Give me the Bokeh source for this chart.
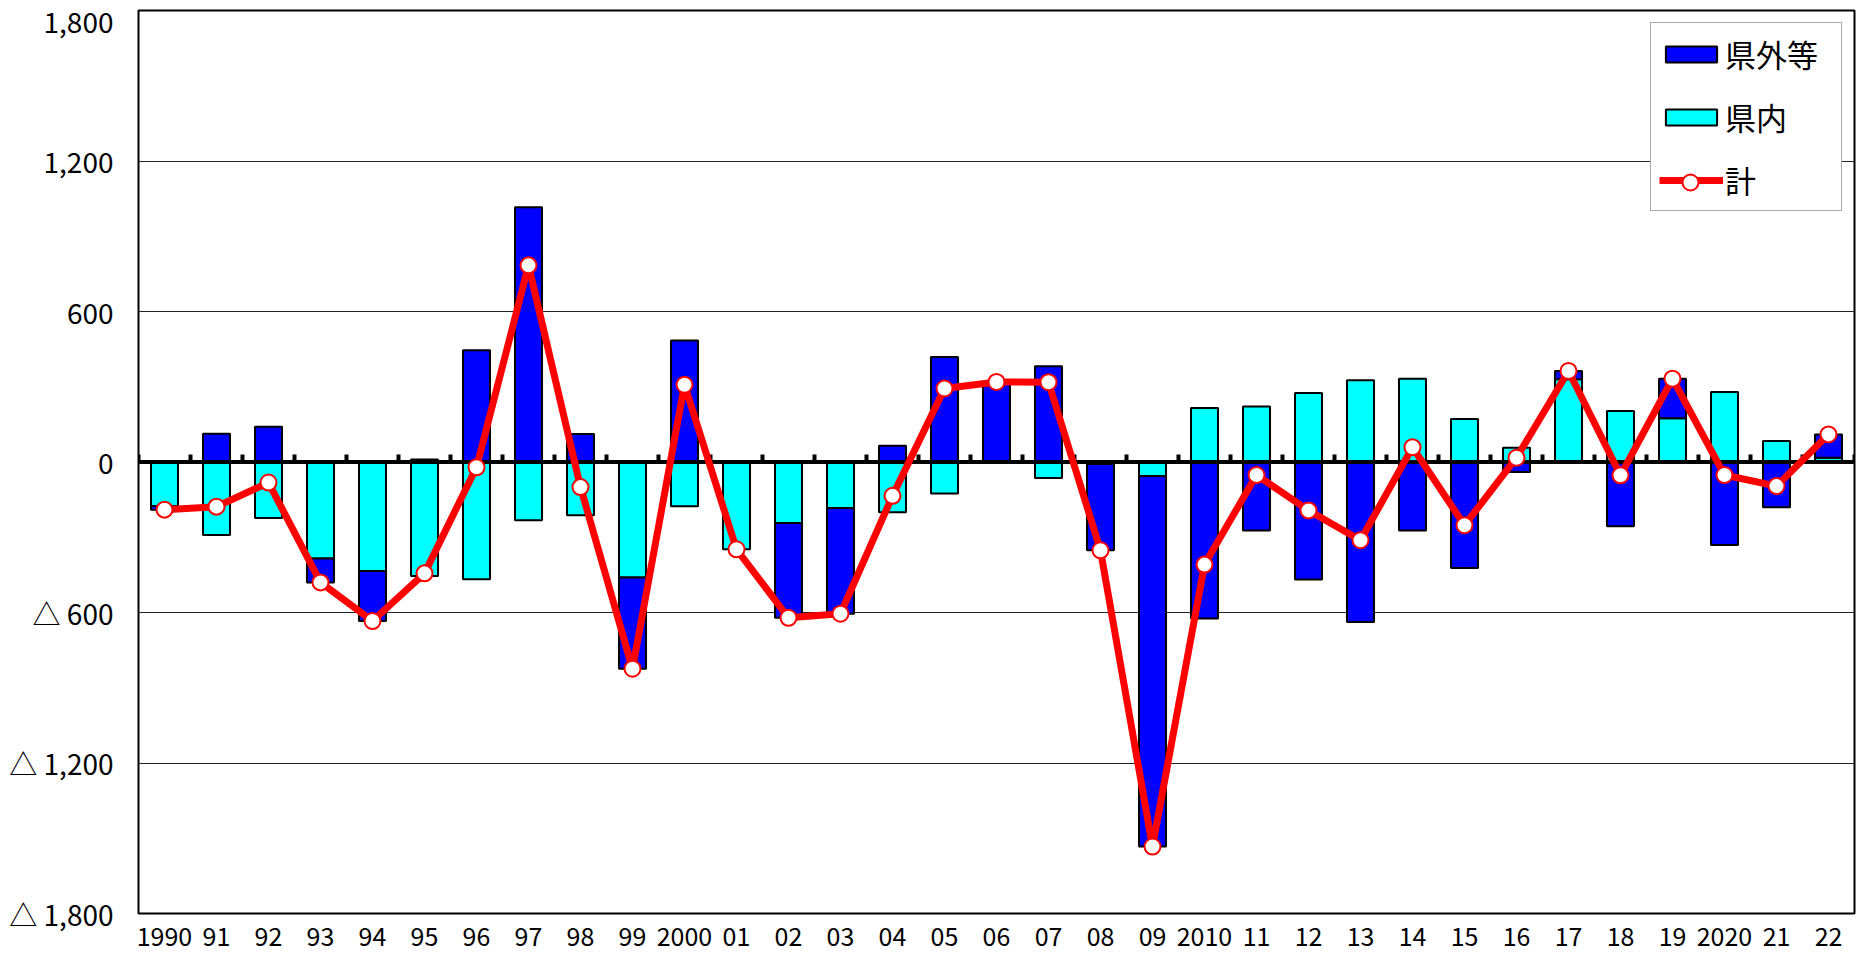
import numpy as np
from bokeh.plotting import figure
from bokeh.models import Range1d, FixedTicker, Legend, LegendItem
from bokeh.embed import file_html
from bokeh.resources import INLINE

# ---- data ----
years = ["1990", "91", "92", "93", "94", "95", "96", "97", "98", "99",
         "2000", "01", "02", "03", "04", "05", "06", "07", "08", "09",
         "2010", "11", "12", "13", "14", "15", "16", "17", "18", "19",
         "2020", "21", "22"]

# 県内 (within prefecture)
kennai = [-175, -291, -223, -385, -435, -454, -467, -232, -212, -460,
          -176, -348, -243, -183, -200, -126, 0, -64, -8, -56,
          215, 221, 275, 326, 332, 171, 57, 330, 203, 174,
          279, 84, 17]

# 県外等 (outside prefecture etc.)
kengai = [-15, 113, 141, -95, -199, 10, 446, 1016, 112, -364,
          484, 0, -378, -422, 65, 419, 319, 382, -344, -1477,
          -624, -273, -468, -638, -273, -423, -40, 33, -256, 158,
          -331, -180, 93]

# 計 (total)
total = [-190, -178, -82, -480, -634, -444, -21, 784, -100, -824,
         308, -348, -621, -605, -135, 293, 319, 318, -352, -1533,
         -409, -52, -193, -312, 59, -252, 17, 363, -53, 332,
         -52, -96, 110]

y_ticks = [-1800, -1200, -600, 0, 600, 1200, 1800]
y_tick_labels = ["△ 1,800", "△ 1,200", "△ 600", "0", "600", "1,200", "1,800"]

FONT = "Noto Sans CJK JP"

n = len(years)
x = np.arange(n)
kn = np.array(kennai, dtype=float)
kg = np.array(kengai, dtype=float)
# Excel-style stacking: positives stack upward, negatives downward
base = np.where(kg >= 0, np.maximum(kn, 0), np.minimum(kn, 0))
kg_bottom = base
kg_top = base + kg

p = figure(width=1864, height=957, output_backend="svg", toolbar_location=None,
           x_range=Range1d(-0.5, n - 0.5), y_range=Range1d(-1800, 1800),
           min_border_left=138, min_border_right=10, min_border_top=10,
           min_border_bottom=44)

p.background_fill_color = "white"
p.border_fill_color = "white"
p.outline_line_color = "black"
p.outline_line_width = 2

# y axis
p.yaxis.ticker = FixedTicker(ticks=y_ticks)
p.yaxis.major_label_overrides = {t: l for t, l in zip(y_ticks, y_tick_labels)}
p.yaxis.axis_line_color = None
p.yaxis.major_tick_line_color = None
p.yaxis.minor_tick_line_color = None
p.yaxis.major_label_standoff = 19
p.yaxis.major_label_text_font = FONT
p.yaxis.major_label_text_font_size = "28px"
p.yaxis.major_label_text_color = "black"

# x axis
p.xaxis.ticker = FixedTicker(ticks=list(range(n)))
p.xaxis.major_label_overrides = {i: years[i] for i in range(n)}
p.xaxis.axis_line_color = None
p.xaxis.major_tick_line_color = None
p.xaxis.minor_tick_line_color = None
p.xaxis.major_label_standoff = 7
p.xaxis.major_label_text_font = FONT
p.xaxis.major_label_text_font_size = "25px"
p.xaxis.major_label_text_color = "black"

# grid
p.xgrid.visible = False
p.ygrid.ticker = FixedTicker(ticks=y_ticks)
p.ygrid.grid_line_color = "#222222"
p.ygrid.grid_line_width = 1

# bars
r_kn = p.vbar(x=x, width=0.52, bottom=0, top=kn, fill_color="#00FFFF",
              line_color="black", line_width=2)
r_kg = p.vbar(x=x, width=0.52, bottom=kg_bottom, top=kg_top, fill_color="#0000FF",
              line_color="black", line_width=2)

# zero axis line with tick marks between categories
p.segment(x0=[-0.5], x1=[n - 0.5], y0=[0], y1=[0], line_color="black", line_width=4)
bounds = np.arange(n + 1) - 0.5
p.segment(x0=bounds, x1=bounds, y0=np.zeros(n + 1), y1=np.full(n + 1, 30.0),
          line_color="black", line_width=4)

# total line
r_line = p.line(x=x, y=total, line_color="#FF0000", line_width=7)
r_pts = p.scatter(x=x, y=total, size=16, fill_color="white", line_color="#FF0000",
                  line_width=2)

legend = Legend(items=[
    LegendItem(label="県外等", renderers=[r_kg]),
    LegendItem(label="県内", renderers=[r_kn]),
    LegendItem(label="計", renderers=[r_line]),
], location="top_right")
legend.margin = 12
legend.padding = 8
legend.spacing = 18
legend.glyph_width = 64
legend.glyph_height = 20
legend.label_standoff = 2
legend.label_width = 108
legend.label_text_font = FONT
legend.label_text_font_size = "31px"
legend.label_text_color = "black"
legend.border_line_color = "#555555"
legend.border_line_width = 1
legend.background_fill_color = "white"
legend.background_fill_alpha = 1.0
p.add_layout(legend)

# larger legend marker for 計, overlaid on the third legend row
legend_marker = Legend(items=[LegendItem(label="", renderers=[r_pts])],
                       location=(1520, 711))
legend_marker.margin = 0
legend_marker.padding = 0
legend_marker.spacing = 0
legend_marker.glyph_width = 64
legend_marker.glyph_height = 40
legend_marker.label_standoff = 0
legend_marker.label_width = 0
legend_marker.label_height = 0
legend_marker.label_text_font_size = "1px"
legend_marker.border_line_color = None
legend_marker.background_fill_alpha = 0.0
p.add_layout(legend_marker)

open("out.html", "w").write(file_html(p, INLINE))
